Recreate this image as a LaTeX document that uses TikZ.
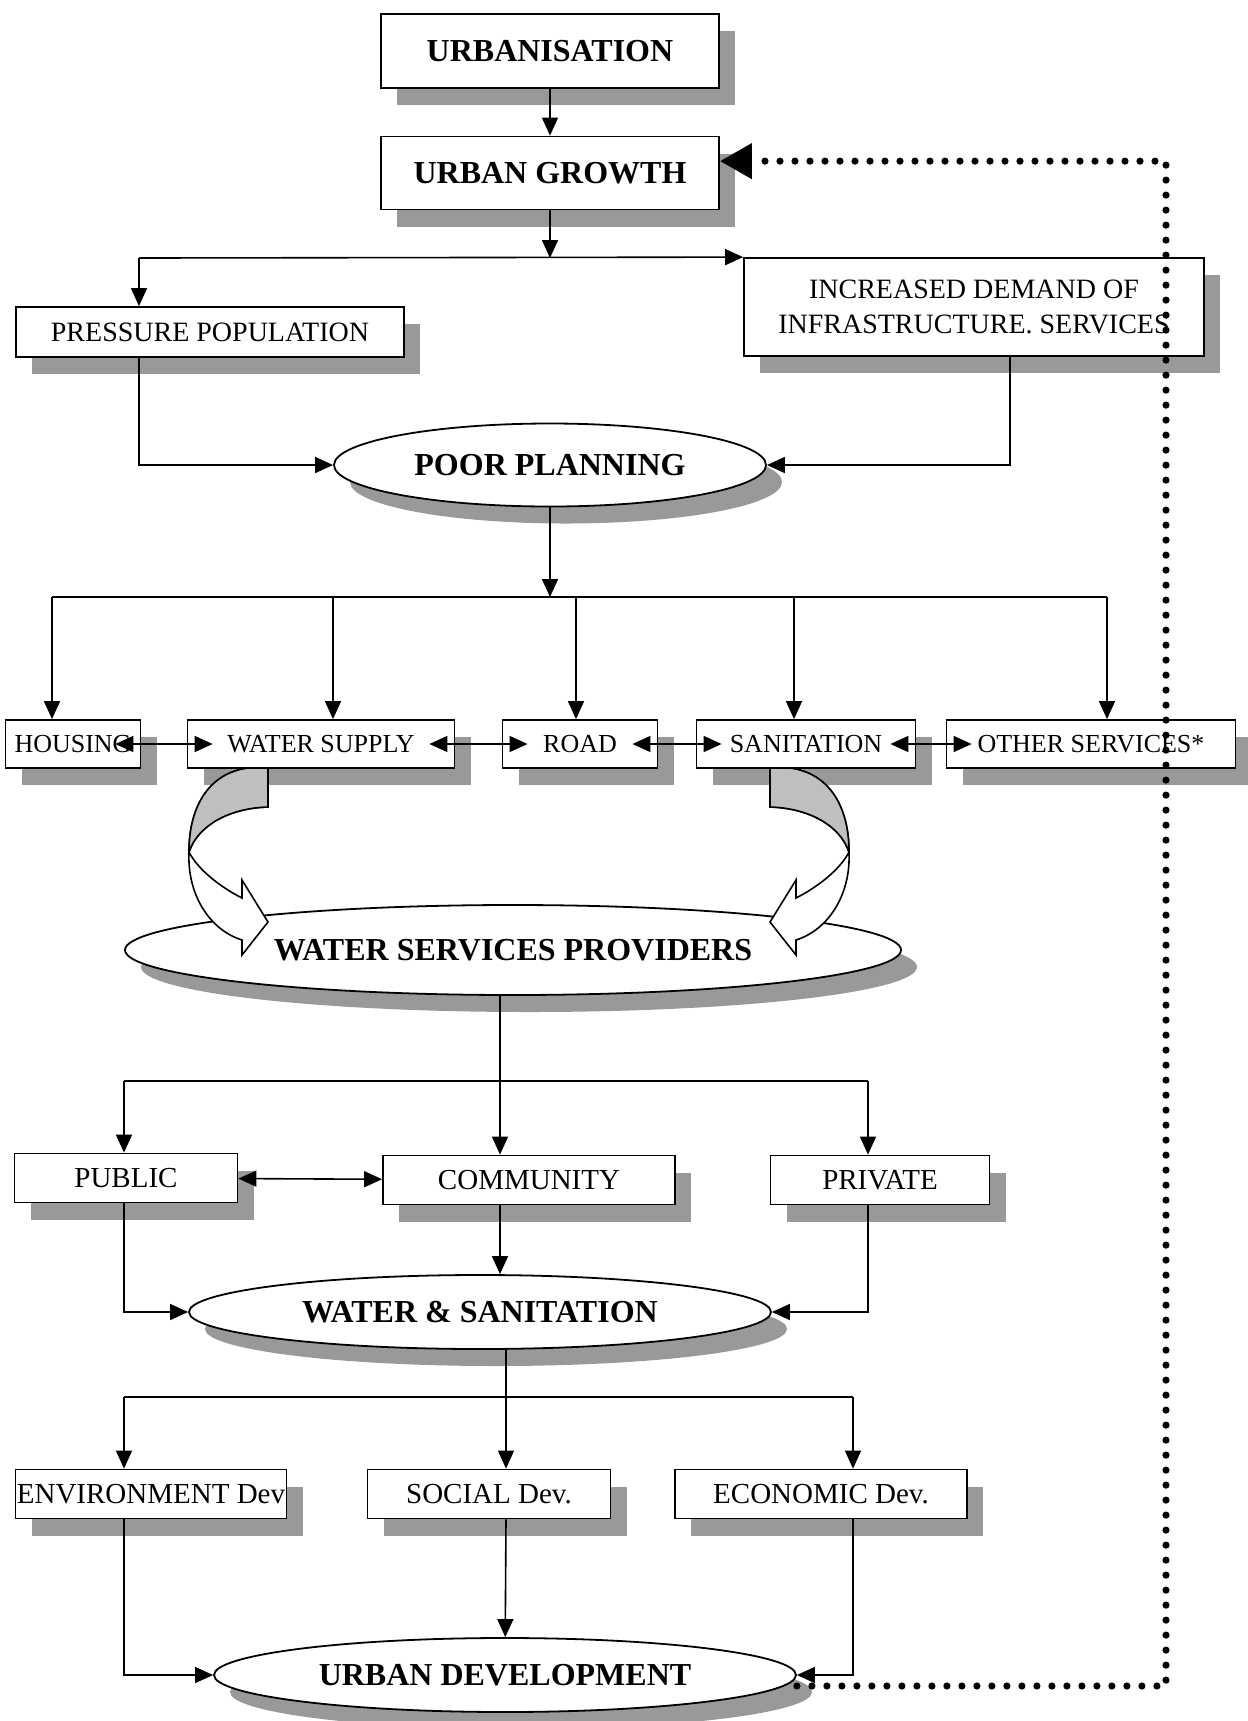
\documentclass[tikz,border=0pt]{standalone}
\usepackage{fontspec}
\setmainfont{Liberation Serif}
\usepackage{tikz}
\usetikzlibrary{shapes.geometric,arrows.meta,shadows}

\begin{document}
\begin{tikzpicture}[x=0.5pt,y=0.5pt,yscale=-1,xscale=1,
  dropsh/.style={drop shadow={shadow xshift=8pt,shadow yshift=-8.5pt,fill=black!40,opacity=1}},
  bigbox/.style={draw,line width=0.9pt,fill=white,dropsh,inner sep=0pt,font=\fontsize{16}{19}\selectfont\bfseries},
  box/.style={draw,line width=0.9pt,fill=white,dropsh,inner sep=0pt,align=center,font=\fontsize{14}{17.5}\selectfont},
  rowbox/.style={box,minimum height=24pt,font=\fontsize{13}{15}\selectfont},
  lowbox/.style={box,minimum height=24.5pt,font=\fontsize{14.5}{17}\selectfont},
  oval/.style={ellipse,bigbox},
  arr/.style={line width=0.8pt,-{Triangle[length=9pt,width=8pt]}},
  darr/.style={line width=0.8pt,{Triangle[length=9pt,width=8pt]}-{Triangle[length=9pt,width=8pt]}},
  rowarr/.style={darr,shorten <=-13pt,shorten >=-13pt},
  feedback/.style={line width=3.6pt,line cap=round,dash pattern=on 0pt off 7.5pt,-{Triangle[length=16pt,width=17pt]}}
]

\useasboundingbox (0,0) rectangle (1248,1721);

\fill [white] (0,0) rectangle (1248,1721);

\draw (550,51) node [bigbox,minimum width=169pt,minimum height=37pt] (urban) {URBANISATION};

\draw (550,173) node [bigbox,minimum width=169pt,minimum height=36.5pt] (growth) {URBAN GROWTH};

\draw (210,332) node [box,minimum width=194pt,minimum height=25pt] (pressure) {PRESSURE POPULATION};

\draw (974,307) node [box,minimum width=230pt,minimum height=49pt] (demand) {INCREASED DEMAND OF\\INFRASTRUCTURE. SERVICES};

\draw (550,465) node [oval,minimum width=216pt,minimum height=41.5pt] (poor) {POOR PLANNING};

\draw (73,744) node [rowbox,minimum width=67.5pt] (housing) {HOUSING};

\draw (321,744) node [rowbox,minimum width=133.5pt] (water) {WATER SUPPLY};

\draw (580,744) node [rowbox,minimum width=77.5pt] (road) {ROAD};

\draw (806,744) node [rowbox,minimum width=109.5pt] (sanit) {SANITATION};

\draw (1091,744) node [rowbox,minimum width=144.5pt] (other) {OTHER SERVICES*};

\draw (513,950) node [oval,minimum width=388pt,minimum height=45pt] (wsp) {WATER SERVICES PROVIDERS};

\draw (126,1178) node [lowbox,minimum width=111.5pt] (public) {PUBLIC};

\draw (529,1180) node [lowbox,minimum width=146pt] (community) {COMMUNITY};

\draw (880,1180) node [lowbox,minimum width=109.5pt] (private) {PRIVATE};

\draw (480,1312) node [oval,minimum width=291pt,minimum height=37pt] (ws) {WATER \& SANITATION};

\draw (151,1494) node [lowbox,minimum width=135.5pt] (env) {ENVIRONMENT Dev};

\draw (489,1494) node [lowbox,minimum width=121.5pt] (social) {SOCIAL Dev.};

\draw (821,1494) node [lowbox,minimum width=146pt] (econ) {ECONOMIC Dev.};

\draw (505,1675) node [oval,minimum width=291pt,minimum height=37pt] (ud) {URBAN DEVELOPMENT};

\draw [arr] (urban) -- (growth);

\coordinate (j1) at (550,258);
\coordinate (j1l) at (139,258);

\draw [arr] (growth) -- (j1);

\draw [arr] (j1l) -- (demand.north west);

\draw [arr] (j1l) -- (j1l |- pressure.north);

\coordinate (j2l) at (139,465);
\coordinate (j2r) at (1010,465);

\draw [arr] (j2l |- pressure.south) -- (j2l) -- (poor);

\draw [arr] (j2r |- demand.south) -- (j2r) -- (poor);

\coordinate (j3) at (550,597);
\coordinate (dh) at (52,597);
\coordinate (dw) at (333,597);
\coordinate (dr) at (576,597);
\coordinate (ds) at (794,597);
\coordinate (do) at (1107,597);

\draw [arr] (poor) -- (j3);

\draw [line width=0.8pt] (dh) -- (do);

\draw [arr] (dh) -- (dh |- housing.north);

\draw [arr] (dw) -- (dw |- water.north);

\draw [arr] (dr) -- (dr |- road.north);

\draw [arr] (ds) -- (ds |- sanit.north);

\draw [arr] (do) -- (do |- other.north);

\draw [rowarr] (housing) -- (water);

\draw [rowarr] (water) -- (road);

\draw [rowarr] (road) -- (sanit);

\draw [rowarr] (sanit) -- (other);

\draw [line width=0.8pt,fill=white] (268,768) -- (248,768) .. controls (210,773) and (189,805) .. (189,852) .. controls (187,895) and (210,930) .. (242,940) -- (242,955) -- (268,922) -- (242,880) -- (242,898) .. controls (222,888) and (198,870) .. (189,852) .. controls (198,825) and (230,808) .. (268,807) -- cycle;

\draw [line width=0.8pt,fill=black!25] (268,768) -- (248,768) .. controls (210,773) and (189,805) .. (189,852) .. controls (198,825) and (230,808) .. (268,807) -- cycle;

\draw [line width=0.8pt,fill=white] (770,768) -- (790,768) .. controls (828,773) and (849,805) .. (849,852) .. controls (851,895) and (828,930) .. (796,940) -- (796,955) -- (770,922) -- (796,880) -- (796,898) .. controls (816,888) and (840,870) .. (849,852) .. controls (840,825) and (808,808) .. (770,807) -- cycle;

\draw [line width=0.8pt,fill=black!25] (770,768) -- (790,768) .. controls (828,773) and (849,805) .. (849,852) .. controls (840,825) and (808,808) .. (770,807) -- cycle;

\coordinate (j4) at (500,1081);
\coordinate (j4l) at (124,1081);
\coordinate (j4r) at (868,1081);

\draw [line width=0.8pt] (j4 |- wsp.south) -- (j4);

\draw [line width=0.8pt] (j4l) -- (j4r);

\draw [arr] (j4) -- (j4 |- community.north);

\draw [arr] (j4l) -- (j4l |- public.north);

\draw [arr] (j4r) -- (j4r |- private.north);

\draw [darr] (public) -- (community);

\draw [arr] (j4l |- public.south) |- (ws);

\draw [arr] (j4 |- community.south) -- (j4 |- ws.north);

\draw [arr] (j4r |- private.south) |- (ws);

\coordinate (j5) at (506,1397);
\coordinate (j5l) at (124,1397);
\coordinate (j5r) at (853,1397);

\draw [line width=0.8pt] (j5 |- ws.south) -- (j5);

\draw [line width=0.8pt] (j5l) -- (j5r);

\draw [arr] (j5) -- (j5 |- social.north);

\draw [arr] (j5l) -- (j5l |- env.north);

\draw [arr] (j5r) -- (j5r |- econ.north);

\draw [arr] (j5 |- social.south) -- (ud);

\draw [arr] (j5l |- env.south) |- (ud);

\draw [arr] (j5r |- econ.south) |- (ud);

\coordinate (fb) at (1166,1686);

\draw [feedback] (ud.east |- fb) -- (fb) |- (growth.4);

\end{tikzpicture}
\end{document}
